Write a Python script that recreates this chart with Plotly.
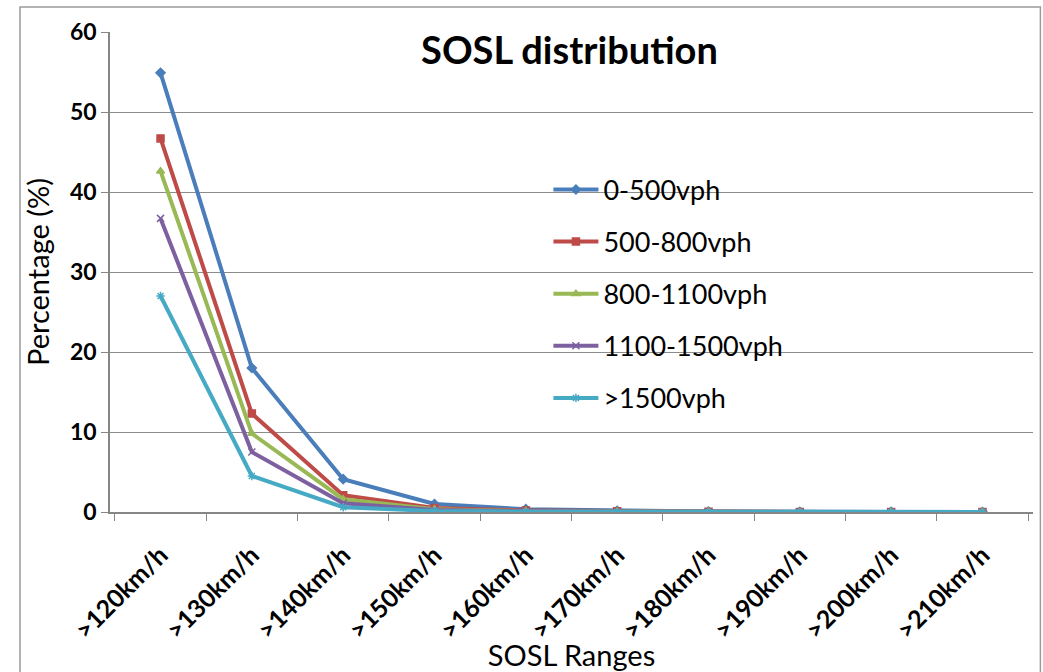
import plotly.graph_objects as go

categories = [">120km/h", ">130km/h", ">140km/h", ">150km/h", ">160km/h",
              ">170km/h", ">180km/h", ">190km/h", ">200km/h", ">210km/h"]

vph_0_500 = [54.9, 18.0, 4.1, 1.0, 0.35, 0.15, 0.05, 0.02, 0.01, 0.0]
vph_500_800 = [46.7, 12.3, 2.1, 0.5, 0.2, 0.1, 0.03, 0.01, 0.0, 0.0]
vph_800_1100 = [42.6, 9.8, 1.6, 0.35, 0.12, 0.05, 0.02, 0.0, 0.0, 0.0]
vph_1100_1500 = [36.7, 7.5, 1.1, 0.25, 0.08, 0.03, 0.01, 0.0, 0.0, 0.0]
vph_over_1500 = [27.0, 4.5, 0.6, 0.12, 0.04, 0.01, 0.0, 0.0, 0.0, 0.0]

series = [
    ("0-500vph", vph_0_500, "#4a7ebb", "diamond"),
    ("500-800vph", vph_500_800, "#be4b48", "square"),
    ("800-1100vph", vph_800_1100, "#98b954", "triangle-up"),
    ("1100-1500vph", vph_1100_1500, "#7d60a0", "x-thin-open"),
    (">1500vph", vph_over_1500, "#46aac5", "asterisk-open"),
]

FONT = "Lato, 'Open Sans', sans-serif"

fig = go.Figure()
for name, vals, color, sym in series:
    fig.add_trace(go.Scatter(
        x=categories, y=vals, name=name, mode="lines+markers",
        legendgroup=name,
        line=dict(color=color, width=4),
        marker=dict(symbol=sym, size=7, color=color,
                    line=dict(color=color, width=1.5)),
    ))

fig.update_layout(
    width=1043, height=672,
    paper_bgcolor="white", plot_bgcolor="white",
    margin=dict(l=110, r=10, t=32, b=160),
    font=dict(family=FONT, color="black"),
    title=dict(text="<b>SOSL distribution</b>", x=0.546, xanchor="center",
               y=0.925, yanchor="middle", font=dict(size=38, family=FONT)),
    showlegend=True,
    legend=dict(x=0.475, y=0.722, xanchor="left", yanchor="top",
                bgcolor="rgba(0,0,0,0)", font=dict(size=27, family=FONT),
                tracegroupgap=14, itemwidth=45),
    xaxis=dict(
        type="category", tickson="boundaries", ticks="outside", ticklen=7,
        tickcolor="#868686", showline=True, linecolor="#868686", linewidth=1.5,
        showgrid=False, tickangle=-45, automargin=False,
        tickfont=dict(size=25, family=FONT),
        tickprefix="<b>", ticksuffix="</b>",
        ticklabelstandoff=17,
        title=dict(text="SOSL Ranges", font=dict(size=29, family=FONT), standoff=2),
    ),
    yaxis=dict(
        range=[0, 60], dtick=10, ticks="outside", ticklen=7, tickcolor="#868686",
        showline=True, linecolor="#868686", linewidth=1.5,
        showgrid=True, gridcolor="#8c8c8c", gridwidth=1.2, zeroline=False,
        automargin=False,
        tickfont=dict(size=23, family=FONT),
        tickprefix="<b>", ticksuffix="</b>",
        title=dict(text="Percentage (%)", font=dict(size=29, family=FONT), standoff=12),
    ),
)

# outer chart frame
fig.add_shape(type="rect", xref="paper", yref="paper",
              x0=-0.0975, x1=1.008, y0=-0.36, y1=1.052,
              line=dict(color="#9a9a9a", width=1.5), layer="below")

fig.write_html("out.html")
